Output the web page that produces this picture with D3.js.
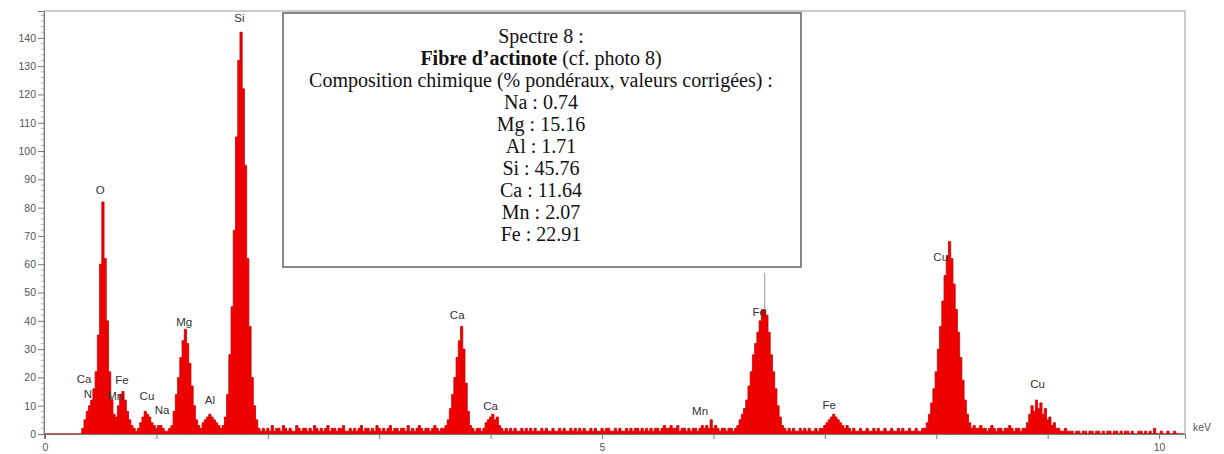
<!DOCTYPE html>
<html>
<head>
<meta charset="utf-8">
<script src="https://cdn.jsdelivr.net/npm/d3@7"></script>
<style>
  html, body { margin: 0; padding: 0; background: #fff; }
  svg { display: block; }
</style>
</head>
<body>
<svg id="chart" width="1224" height="454"></svg>
<script>
// ---- DATA ----
// Counts per 0.02 keV channel, starting at 0.00 keV (channel centre = index * binWidth)
const binWidth = 0.02;
const counts = [
  0,0,0,0,0,0,0,0,0,0,
  0,0,0,0,0,0,0,2,5,8,
  10,12,16,22,35,60,82,62,40,22,
  12,7,6,10,14,15,12,8,5,3,
  2,1,2,4,6,8,7,6,4,3,
  2,3,3,2,1,1,2,3,8,14,
  20,27,33,37,32,25,17,10,5,3,
  2,4,5,6,7,6,5,4,3,2,
  3,6,14,28,45,72,105,132,142,122,
  95,62,38,20,10,5,2,1,2,1,
  2,1,3,1,2,2,1,3,2,1,
  2,1,1,3,2,1,2,2,1,2,
  1,3,2,1,2,1,2,3,1,2,
  2,1,2,2,3,1,1,2,1,2,
  1,2,3,1,2,2,1,2,1,3,
  2,1,2,1,2,3,1,2,2,1,
  2,2,1,3,1,2,1,2,3,2,
  1,2,2,1,2,3,2,1,2,2,
  3,5,9,14,20,27,33,38,30,18,
  8,3,2,1,2,2,1,2,4,5,
  6,7,5,6,3,2,1,2,1,2,
  1,2,1,1,2,1,2,1,2,1,
  2,1,1,2,1,2,1,1,2,1,
  1,2,1,2,1,1,2,1,2,1,
  2,1,2,1,1,2,1,2,1,1,
  2,1,2,2,1,1,2,1,2,1,
  1,2,1,2,1,2,2,1,2,1,
  2,1,2,1,2,2,1,2,3,2,
  2,3,2,2,3,1,2,2,1,2,
  1,2,2,1,2,3,2,3,2,5,
  2,3,2,1,2,2,1,2,2,1,
  2,3,5,7,9,12,17,22,28,32,
  36,40,44,44,42,36,28,22,16,10,
  6,3,2,1,2,1,2,1,1,2,
  1,2,1,2,1,1,2,1,2,2,
  3,4,5,6,7,6,5,4,3,2,
  3,2,1,2,1,1,2,1,1,2,
  1,1,2,1,2,1,1,2,1,1,
  2,1,1,2,1,2,1,1,2,1,
  1,2,1,1,2,2,4,7,11,16,
  22,30,38,47,56,63,68,62,53,44,
  36,27,19,12,7,4,2,3,2,2,
  3,2,2,1,2,3,2,1,2,2,
  1,2,2,3,2,1,2,2,1,2,
  2,4,7,10,8,12,9,11,7,9,
  5,6,3,4,2,2,1,1,2,1,
  1,1,0,1,1,0,1,1,0,1,
  1,0,1,1,0,1,0,1,1,0,
  1,1,0,1,0,1,1,0,1,0,
  0,1,1,0,1,0,1,0,2,0,
  0,1,0,0,1,0,0,1,0,0,
  0,0
];

// Element peak labels
const peakNames  = ["Ca","N","Fe","Mn","O","Cu","Na","Mg","Al","Si","Ca","Ca","Mn","Fe","Fe","Cu","Cu"];
const peakKeV    = [0.35,0.385,0.69,0.63,0.495,0.915,1.05,1.25,1.48,1.745,3.70,4.00,5.88,6.41,7.04,8.04,8.91];
const peakLabelY = [19.4,14.1,19.0,13.4,86.2,13.4,8.5,39.6,12.0,147.0,42.0,9.9,8.1,43.0,10.2,62.5,17.7];

// Marker line (Fe K-alpha)
const markerKeV = [6.46];
const markerTop = [57];
const markerBase = [44];

// Axis ticks
const yTicks = [0,10,20,30,40,50,60,70,80,90,100,110,120,130,140];
const xLabelTicks = [0,5,10];
const xMinorTicks = [0,1,2,3,4,5,6,7,8,9,10];
const unitLabel = "keV";

// Annotation box text
const boxTitle = "Spectre 8 :";
const boxBold = "Fibre d’actinote";
const boxNormal = " (cf. photo 8)";
const boxSubtitle = "Composition chimique (% pondéraux, valeurs corrigées) :";
const elements = ["Na","Mg","Al","Si","Ca","Mn","Fe"];
const percents = ["0.74","15.16","1.71","45.76","11.64","2.07","22.91"];

// ---- DRAW ----
const svg = d3.select("#chart");
const pLeft = 44, pRight = 1185, pTop = 11, pBottom = 434;

const x = d3.scaleLinear().domain([-0.009, 10.233]).range([pLeft, pRight]);
const y = d3.scaleLinear().domain([0, 149.5]).range([pBottom, pTop]);

const data = counts.map((c, i) => ({ e: i * binWidth, c }));

// plot frame
svg.append("rect")
  .attr("x", pLeft).attr("y", pTop)
  .attr("width", pRight - pLeft).attr("height", pBottom - pTop)
  .attr("fill", "none").attr("stroke", "#9a9a9a").attr("stroke-width", 1);

// spectrum
const area = d3.area()
  .curve(d3.curveStep)
  .x(d => x(d.e))
  .y0(y(0))
  .y1(d => y(d.c));

svg.append("path")
  .datum(data)
  .attr("d", area)
  .attr("fill", "#ec0000")
  .attr("stroke", "#d00000")
  .attr("stroke-width", 0.8);

// marker line
svg.selectAll("line.marker")
  .data(markerKeV)
  .enter().append("line")
  .attr("class", "marker")
  .attr("x1", d => x(d)).attr("x2", d => x(d))
  .attr("y1", (d, i) => y(markerTop[i]))
  .attr("y2", (d, i) => y(markerBase[i]))
  .attr("stroke", "#999").attr("stroke-width", 1);

// y axis
const yAxis = d3.axisLeft(y).tickValues(yTicks).tickSize(6).tickPadding(2);
const gy = svg.append("g").attr("transform", `translate(${pLeft},0)`).call(yAxis);
gy.select(".domain").attr("stroke", "#777");
gy.selectAll(".tick line").attr("stroke", "#777");
gy.selectAll(".tick text")
  .attr("font-family", "Liberation Sans, Arial, sans-serif")
  .attr("font-size", 10.5).attr("fill", "#555");

// minor y ticks
const minorY = d3.range(0, 149, 2).filter(v => v % 10 !== 0);
svg.append("g").selectAll("line")
  .data(minorY).enter().append("line")
  .attr("x1", pLeft - 3).attr("x2", pLeft)
  .attr("y1", d => y(d)).attr("y2", d => y(d))
  .attr("stroke", "#999").attr("stroke-width", 0.8);

// x axis
const xAxis = d3.axisBottom(x).tickValues(xMinorTicks).tickSize(5)
  .tickFormat(d => xLabelTicks.includes(d) ? d : "");
const gx = svg.append("g").attr("transform", `translate(0,${pBottom})`).call(xAxis);
gx.select(".domain").attr("stroke", "#777");
gx.selectAll(".tick line").attr("stroke", "#777");
gx.selectAll(".tick text")
  .attr("font-family", "Liberation Sans, Arial, sans-serif")
  .attr("font-size", 10.5).attr("fill", "#555").attr("dy", "0.85em");

svg.append("text")
  .attr("x", pRight + 8).attr("y", pBottom - 3)
  .attr("font-family", "Liberation Sans, Arial, sans-serif")
  .attr("font-size", 10.5).attr("fill", "#555")
  .text(unitLabel);

// peak labels
svg.append("g").selectAll("text")
  .data(peakNames).enter().append("text")
  .attr("x", (d, i) => x(peakKeV[i]))
  .attr("y", (d, i) => y(peakLabelY[i]))
  .attr("dy", "0.35em")
  .attr("text-anchor", "middle")
  .attr("font-family", "Liberation Sans, Arial, sans-serif")
  .attr("font-size", 11.5).attr("fill", "#333")
  .text(d => d);

// annotation box
const bx0 = 283, by0 = 13, bx1 = 801, by1 = 267;
svg.append("rect")
  .attr("x", bx0).attr("y", by0)
  .attr("width", bx1 - bx0).attr("height", by1 - by0)
  .attr("fill", "#fff").attr("stroke", "#7a7a7a").attr("stroke-width", 1.8);

const cx = 541, baseY = 42.5, lineH = 22.1;
const serif = "Liberation Serif, Times New Roman, serif";
const lines = [boxTitle, null, boxSubtitle].concat(elements.map((e, i) => `${e} : ${percents[i]}`));
const tg = svg.append("g")
  .attr("font-family", serif).attr("font-size", 20).attr("fill", "#111")
  .attr("text-anchor", "middle");
lines.forEach((t, i) => {
  const tx = tg.append("text").attr("x", cx).attr("y", baseY + i * lineH);
  if (t === null) {
    tx.append("tspan").attr("font-weight", "bold").text(boxBold);
    tx.append("tspan").text(boxNormal);
  } else {
    tx.text(t);
  }
});
</script>
</body>
</html>
